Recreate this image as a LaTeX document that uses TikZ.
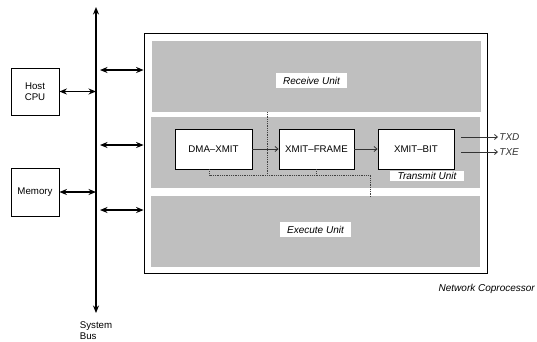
\documentclass[tikz,border=0pt]{standalone}
\usepackage{fontspec}
\setmainfont{Liberation Sans}
\usetikzlibrary{arrows.meta}
\usetikzlibrary{positioning}
\tikzset{blk/.style = {draw, fill = white, line width = 0.8pt, align = center, inner sep = 0}}
\tikzset{area/.style = {fill = black!25, inner sep = 0}}
\tikzset{tag/.style = {fill = white, font = \itshape, inner sep = 0}}
\tikzset{busarr/.style = {line width = 1.6pt, {Stealth[length = 7.5pt, width = 6pt]}-{Stealth[length = 7.5pt, width = 6pt]}}}
\tikzset{sig/.style = {black!80, line width = 0.8pt, -{Straight Barb[length = 3pt, width = 5pt]}}}
\tikzset{ctrl/.style = {black!75, densely dotted, line width = 0.8pt}}

\begin{document}
\begin{tikzpicture}[x = 1pt, y = -1pt, font = \fontsize{9.7}{11}\selectfont]
    \useasboundingbox (0, 0) rectangle (537, 341);

    \node [blk, minimum width = 343pt, minimum height = 240pt] (copro) at (315.5, 153) {};
    \node [area, minimum width = 329pt, minimum height = 71pt] (recv) at (316.5, 76.5) {};
    \node [area, minimum width = 329pt, minimum height = 71pt] (xmit) at (315.5, 152.5) {};
    \node [area, minimum width = 329pt, minimum height = 71pt] (exec) at (315.5, 231.5) {};

    \node [tag, minimum width = 71pt, minimum height = 15pt] (recvlbl) at (311.5, 80.5) {Receive Unit};
    \node [tag, minimum width = 71pt, minimum height = 15pt] (execlbl) at (315.5, 229.5) {Execute Unit};
    \node [tag, minimum width = 74pt, minimum height = 10pt] (xmitlbl) at (427, 176) {Transmit Unit};

    \node [blk, minimum width = 77pt, minimum height = 40pt] (dma) at (213.5, 149) {DMA--XMIT};
    \node [blk, minimum width = 75pt, minimum height = 40pt] (frame) at (316.5, 149) {XMIT--FRAME};
    \node [blk, minimum width = 76pt, minimum height = 40pt] (bit) at (416, 149) {XMIT--BIT};

    \node [blk, minimum width = 48pt, minimum height = 47pt] (host) at (35, 91.5) {Host\\CPU};
    \node [blk, minimum width = 48pt, minimum height = 48pt] (mem) at (35, 192) {Memory};

    \coordinate (bustop) at (96, 7);
    \coordinate (busbot) at (96, 313);
    \draw [busarr] (bustop) -- (busbot);
    \node [align = left, below = 5pt of busbot] (buslbl) {System\\Bus};

    \draw [busarr] (host.east) -- (host.east -| bustop);
    \draw [busarr] (mem.east) -- (mem.east -| bustop);

    \coordinate (tap1) at (100, 70);
    \coordinate (tap2) at (100, 145);
    \coordinate (tap3) at (100, 210);
    \draw [busarr] (tap1) -- (copro.west |- tap1);
    \draw [busarr] (tap2) -- (copro.west |- tap2);
    \draw [busarr] (tap3) -- (copro.west |- tap3);

    \draw [sig] (dma) -- (frame);
    \draw [sig] (frame) -- (bit);

    \coordinate (txd) at (498, 137);
    \coordinate (txe) at (498, 152);
    \draw [sig] ([xshift = 7pt] bit.east |- txd) -- (txd) node [right, inner sep = 1pt, font = \itshape] {TXD};
    \draw [sig] ([xshift = 7pt] bit.east |- txe) -- (txe) node [right, inner sep = 1pt, font = \itshape] {TXE};

    \coordinate (rxtap) at (267, 112);
    \coordinate (rail) at (267, 175);
    \coordinate (extap) at (370, 197);
    \draw [ctrl] ([xshift = -4pt] dma.south) |- (rail) -| (extap);
    \draw [ctrl] (rxtap) -- (rail);
    \draw [ctrl] (frame.south) -- (frame.south |- rail);

    \node [anchor = east, inner sep = 0, font = \itshape] (coprolbl) at (535, 289) {Network Coprocessor};
\end{tikzpicture}
\end{document}
